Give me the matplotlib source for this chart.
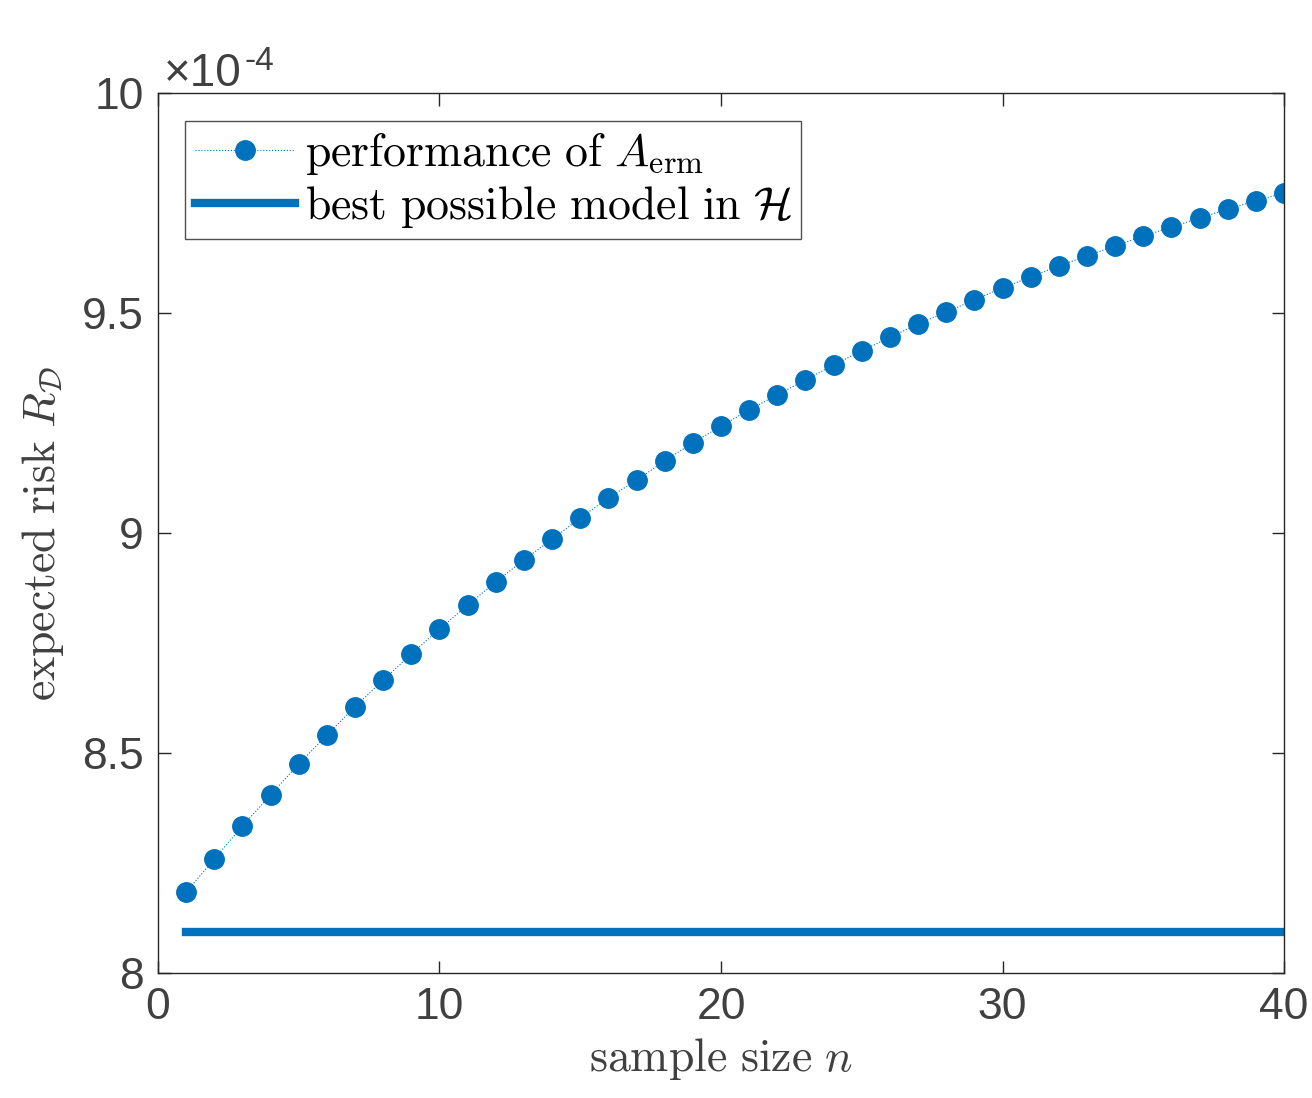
import numpy as np
import matplotlib.pyplot as plt

plt.rcParams['mathtext.fontset'] = 'cm'
plt.rcParams['font.family'] = ['Liberation Sans', 'DejaVu Sans']

# expected risk values, in units of 1e-4
n = np.arange(1, 41)
risk_e4 = [8.184, 8.259, 8.334, 8.405, 8.475, 8.541, 8.605, 8.666, 8.725, 8.782,
           8.836, 8.889, 8.939, 8.986, 9.034, 9.080, 9.120, 9.164, 9.205, 9.243,
           9.280, 9.314, 9.348, 9.382, 9.414, 9.445, 9.475, 9.502, 9.530, 9.557,
           9.582, 9.607, 9.630, 9.652, 9.675, 9.695, 9.716, 9.736, 9.755, 9.773]
best_e4 = 8.093

blue = '#0072BD'
grey = '#262626'
tgrey = '#404040'

fig = plt.figure(figsize=(13.12, 10.98), dpi=100)
ax = fig.add_axes([0.1204, 0.1138, 0.8583, 0.8015])

ax.plot(n, risk_e4, ':', color=blue, lw=0.8, marker='o', ms=14, mec=blue, mfc=blue,
        label=r'$\mathrm{performance\ of}\ A_{\mathrm{erm}}$')
ax.plot([n[0], n[-1]], [best_e4, best_e4], '-', color=blue, lw=6,
        label=r'$\mathrm{best\ possible\ model\ in}\ \mathcal{H}$')

ax.set_xlim(0, 40)
ax.set_ylim(8, 10)
ax.set_xticks([0, 10, 20, 30, 40])
ax.set_yticks([8, 8.5, 9, 9.5, 10])
ax.set_yticklabels(['8', '8.5', '9', '9.5', '10'])
ax.tick_params(direction='in', length=9, width=1, top=True, right=True,
               labelsize=32, color=grey, labelcolor=tgrey, pad=10)
for s in ax.spines.values():
    s.set_color(grey)
    s.set_linewidth(1)

ax.set_xlabel(r'$\mathrm{sample\ size}\ n$', fontsize=33, color=tgrey, labelpad=6)
ax.set_ylabel(r'$\mathrm{expected\ risk}\ R_{\mathcal{D}}$', fontsize=33, color=tgrey, labelpad=12)

# MATLAB-style exponent label
ax.text(0.005, 1.008, '\u00d710', transform=ax.transAxes, fontsize=33,
        color=tgrey, ha='left', va='baseline')
ax.text(0.077, 1.026, '-4', transform=ax.transAxes, fontsize=24,
        color=tgrey, ha='left', va='baseline')

leg = ax.legend(loc='upper left', fontsize=33, frameon=True, fancybox=False,
                edgecolor=grey, handlelength=2.2, borderpad=0.2, labelspacing=0.15,
                handletextpad=0.2, borderaxespad=0.6)
leg.get_frame().set_linewidth(1)

fig.savefig('out.png', dpi=100)
